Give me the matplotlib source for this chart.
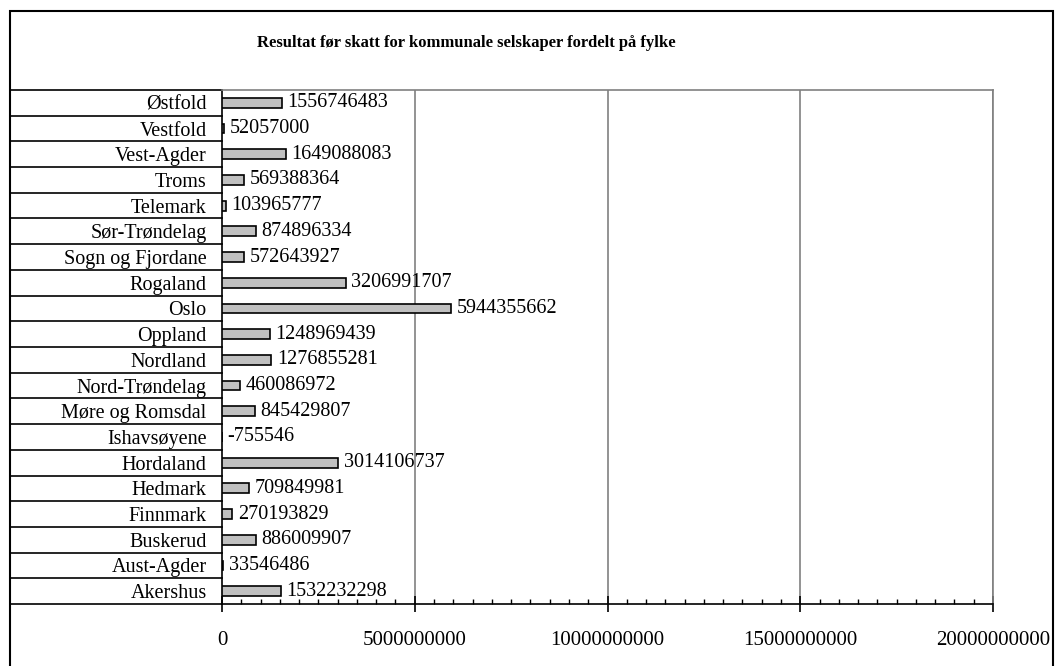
import numpy as np
import matplotlib
matplotlib.use('Agg')
import matplotlib.pyplot as plt
import matplotlib.patches as patches
import matplotlib.transforms as mtransforms
from matplotlib.ticker import MultipleLocator, FuncFormatter

# resultat før skatt per fylke, listed bottom to top
fylker = ['Akershus', 'Aust-Agder', 'Buskerud', 'Finnmark', 'Hedmark', 'Hordaland',
          'Ishavsøyene', 'Møre og Romsdal', 'Nord-Trøndelag', 'Nordland', 'Oppland',
          'Oslo', 'Rogaland', 'Sogn og Fjordane', 'Sør-Trøndelag', 'Telemark', 'Troms',
          'Vest-Agder', 'Vestfold', 'Østfold']
resultat = [1532232298, 33546486, 886009907, 270193829, 709849981, 3014106737,
            -755546, 845429807, 460086972, 1276855281, 1248969439,
            5944355662, 3206991707, 572643927, 874896334, 103965777, 569388364,
            1649088083, 52057000, 1556746483]
x_ticks = [0, 5000000000, 10000000000, 15000000000, 20000000000]
title = 'Resultat før skatt for kommunale selskaper fordelt på fylke'

plt.rcParams['font.family'] = ['Liberation Serif', 'DejaVu Serif']
W, H = 1056, 666
fig = plt.figure(figsize=(W / 100, H / 100), dpi=100)
fig.patch.set_facecolor('white')

left, right, top, bottom = 222, 993, 90, 604
ax = fig.add_axes([left / W, 1 - bottom / H, (right - left) / W, (bottom - top) / H])

y = np.arange(len(fylker))
ax.barh(y, resultat, height=0.38, color='#c0c0c0', edgecolor='black', linewidth=1.2, zorder=3)

ax.set_xlim(x_ticks[0], x_ticks[-1])
ax.set_ylim(-0.5, len(fylker) - 0.5)

# value labels at the bar ends
for yi, v in zip(y, resultat):
    ax.annotate(str(v), (max(v, 0), yi), xytext=(4, 0), textcoords='offset points',
                ha='left', va='center', fontsize=14.5, zorder=4)

# gridlines and plot frame
for xt in x_ticks[1:]:
    ax.axvline(xt, color='#808080', lw=1.2, zorder=1)
for side in ['top', 'right']:
    ax.spines[side].set_color('#808080')
    ax.spines[side].set_linewidth(1.2)
ax.spines['left'].set_linewidth(1.2)
ax.spines['bottom'].set_linewidth(1.2)

ax.xaxis.set_major_locator(MultipleLocator(5000000000))
ax.xaxis.set_minor_locator(MultipleLocator(500000000))
ax.xaxis.set_major_formatter(FuncFormatter(lambda v, p: '%d' % round(v)))
ax.tick_params(axis='x', which='major', direction='inout', length=11, width=1.2,
               pad=14, labelsize=15)
ax.tick_params(axis='x', which='minor', direction='in', length=3.6, width=1.0)

ax.set_yticks(y)
ax.set_yticklabels(fylker, fontsize=14.5)
ax.tick_params(axis='y', which='both', length=0, pad=11)

# table-like row separators to the left of the axis
blend = mtransforms.blended_transform_factory(ax.transAxes, ax.transData)
x0 = (10 - left) / (right - left)
for b in np.arange(-0.5, len(fylker), 1.0):
    ax.plot([x0, 0], [b, b], color='black', lw=1.2, transform=blend, clip_on=False)

# outer chart border (open at the bottom)
fig.add_artist(patches.Rectangle((10 / W, -0.1), (1053 - 10) / W, 1.1 - 11 / H,
                                 transform=fig.transFigure, fill=False,
                                 edgecolor='black', lw=1.5))

fig.text(466 / W, 1 - 43 / H, title, ha='center', va='center',
         fontsize=12, fontweight='bold')

fig.savefig('out.png', dpi=100)
